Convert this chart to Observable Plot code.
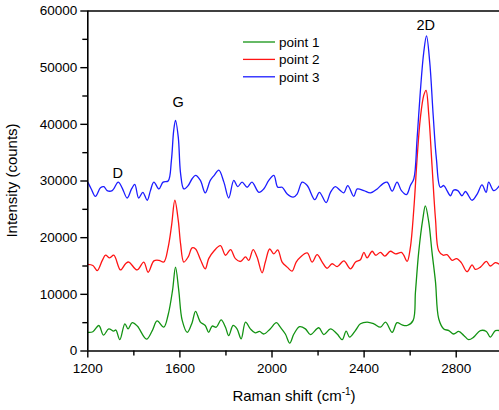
<!DOCTYPE html>
<html><head><meta charset="utf-8">
<script src="https://cdn.jsdelivr.net/npm/d3@7"></script>
<script src="https://cdn.jsdelivr.net/npm/@observablehq/plot@0.6"></script>
<style>body{margin:0;background:#fff;} svg{display:block;}</style>
</head><body><div id="chart"></div>
<script>
// ---- data (Raman shift in cm^-1, intensity in counts) ----
const seriesNames = ["point 1", "point 2", "point 3"];
const seriesColors = ["#139313", "#ff1414", "#1c1cff"];

const p1x = [1200,1222,1248,1268,1291,1312,1322,1339,1361,1375,1393,1415,1455,1480,1501,1530,1549,1568,1581,1595,1610,1632,1653,1668,1689,1710,1725,1740,1758,1779,1798,1812,1831,1848,1866,1885,1906,1927,1946,1964,1992,2019,2036,2058,2077,2095,2120,2145,2167,2203,2225,2254,2283,2305,2322,2337,2362,2384,2413,2442,2471,2493,2522,2543,2565,2587,2613,2623,2637,2655,2666,2681,2695,2710,2724,2746,2768,2789,2811,2833,2854,2876,2905,2931,2948,2970,2988];
const p1y = [3300,3400,4500,2800,3900,3500,3700,2000,4800,3900,5000,4400,2100,3600,5300,4200,6400,10700,14800,10700,5400,3300,5000,7000,5100,4500,3300,4400,4200,5500,4200,2700,4500,3900,2150,5100,3900,3200,3450,3000,3900,5000,4200,3000,1400,3000,4300,3900,2900,4100,2900,3900,3000,2000,3500,2450,3600,4800,5100,4800,4200,5100,3300,5000,4600,4500,5400,10400,17400,23300,25600,22700,17400,12200,5700,3900,3600,3000,3450,2750,2000,2450,3600,3450,2450,3600,3600];

const p2x = [1200,1222,1241,1263,1277,1295,1313,1342,1364,1378,1414,1443,1462,1487,1509,1530,1549,1564,1578,1593,1603,1617,1636,1653,1668,1689,1710,1725,1747,1776,1798,1820,1841,1863,1885,1899,1918,1935,1957,1971,1990,2008,2025,2044,2066,2087,2105,2124,2153,2174,2196,2218,2239,2261,2283,2312,2341,2363,2384,2399,2413,2435,2450,2471,2490,2514,2536,2562,2572,2587,2601,2616,2630,2644,2659,2669,2681,2695,2710,2724,2743,2760,2782,2801,2822,2847,2869,2883,2905,2931,2948,2970,2988];
const p2y = [15300,15100,14200,16000,16900,16450,16900,14300,15400,15700,14300,15700,13900,15900,16000,15700,18300,22200,26600,23000,18900,15700,16600,18200,18000,16150,14500,16300,17600,18600,16900,17900,16300,15800,16600,16000,17900,16600,13800,15700,18000,17150,17850,15700,14800,14100,15700,16600,17300,15700,17000,15700,14600,15400,14900,15900,14500,15700,16100,17400,16450,17600,16900,17400,16750,17600,17150,17400,16900,15800,18300,25100,33900,41000,45100,46000,41600,32700,23300,17700,16900,17000,16000,16300,15600,14000,15200,14400,14800,15800,15000,15600,15300];

const p3x = [1200,1215,1233,1255,1270,1284,1306,1332,1349,1371,1390,1404,1421,1439,1458,1472,1487,1509,1527,1549,1563,1573,1581,1593,1603,1617,1636,1653,1668,1689,1710,1732,1749,1769,1791,1812,1834,1851,1870,1892,1913,1943,1964,1986,2008,2025,2044,2066,2092,2109,2131,2153,2186,2206,2235,2254,2275,2297,2312,2329,2355,2370,2399,2428,2457,2481,2500,2522,2543,2562,2584,2601,2616,2630,2644,2659,2671,2685,2700,2714,2731,2746,2760,2775,2789,2807,2825,2840,2869,2891,2912,2930,2941,2963,2988];
const p3y = [29800,28600,27300,28800,29000,28300,28300,29800,28800,27000,28600,29400,27000,28000,26600,28300,29800,28600,29800,30000,33600,38900,40700,37700,31300,28600,29200,30400,31000,30100,27900,30100,31000,31900,29800,27000,30100,29000,29800,28900,29800,28000,28600,30100,31000,28900,28900,27700,27150,27700,29800,29200,26700,28000,26200,28000,29000,28300,27900,29200,27300,28600,28300,27900,28600,29500,29800,28200,29800,28300,27600,29200,30400,37400,45700,52700,55600,51000,41600,33900,28900,29200,28300,27400,28400,28300,27400,28150,26600,27700,29300,28000,29800,28300,29200];

const peakLabels = ["D", "G", "2D"];
const peakX = [1330, 1592, 2668];
const peakY = [31400, 43900, 57400];

const xMajorTicks = [1200, 1600, 2000, 2400, 2800];
const xMinorTicks = [1400, 1800, 2200, 2600];
const yMajorTicks = [0, 10000, 20000, 30000, 40000, 50000, 60000];
const yMinorTicks = [5000, 15000, 25000, 35000, 45000, 55000];

const xTitle = "Raman shift (cm";
const xTitleSup = "-1";
const yTitle = "Intensity (counts)";

// ---- build tables ----
const xs = [p1x, p2x, p3x], ys = [p1y, p2y, p3y];
const rows = seriesNames.flatMap((name, k) => xs[k].map((x, i) => ({series: name, x, y: ys[k][i]})));
const peaks = peakLabels.map((t, i) => ({t, x: peakX[i], y: peakY[i]}));

const font = "'Liberation Sans', Arial, sans-serif";

const chart = Plot.plot({
  width: 499, height: 410,
  marginLeft: 87.3, marginRight: 0, marginTop: 10.5, marginBottom: 59.5,
  style: {fontFamily: font, fontSize: "13.5px", color: "#000", background: "#fff"},
  x: {domain: [1200, 2988]},
  y: {domain: [0, 60000]},
  color: {domain: seriesNames, range: seriesColors},
  marks: [
    Plot.lineY(rows, {x: "x", y: "y", z: "series", stroke: "series", curve: "catmull-rom", strokeWidth: 1.3}),
    Plot.axisX(xMajorTicks, {tickSize: 7, tickPadding: 5, label: null, strokeWidth: 1.4, fontSize: 13.5, tickFormat: d3.format("d")}),
    Plot.axisX(xMinorTicks, {tickSize: 5, text: null, label: null, strokeWidth: 1.4}),
    Plot.axisY(yMajorTicks, {tickSize: 7, tickPadding: 3.5, label: null, strokeWidth: 1.4, fontSize: 13.5, tickFormat: d3.format("d")}),
    Plot.axisY(yMinorTicks, {tickSize: 5, text: null, label: null, strokeWidth: 1.4}),
    Plot.ruleY([0], {strokeWidth: 1.6}),
    Plot.ruleY([60000], {strokeWidth: 1.6}),
    Plot.ruleX([1200], {strokeWidth: 1.6}),
    Plot.text(peaks, {x: "x", y: "y", text: "t", fontSize: 14.5, fill: "#000"})
  ]
});

document.getElementById("chart").appendChild(chart);

// ---- titles and legend ----
const svg = d3.select(chart);
const xt = svg.append("text")
  .attr("x", 294).attr("y", 400.7).attr("text-anchor", "middle")
  .attr("font-family", font).attr("font-size", 15).attr("fill", "#000");
xt.append("tspan").text(xTitle);
xt.append("tspan").attr("dy", -6).attr("font-size", 10).text(xTitleSup);
xt.append("tspan").attr("dy", 6).text(")");

svg.append("text")
  .attr("transform", "translate(17,180.5) rotate(-90)")
  .attr("text-anchor", "middle")
  .attr("font-family", font).attr("font-size", 15).attr("fill", "#000")
  .text(yTitle);

const legend = svg.append("g");
seriesNames.forEach((name, i) => {
  const cy = 42 + i * 17.4;
  legend.append("line").attr("x1", 243).attr("x2", 275).attr("y1", cy).attr("y2", cy)
    .attr("stroke", seriesColors[i]).attr("stroke-width", 1.3);
  legend.append("text").attr("x", 279).attr("y", cy).attr("dy", "0.35em")
    .attr("text-anchor", "start")
    .attr("font-family", font).attr("font-size", 13.5).attr("fill", "#000").text(name);
});
</script>
</body></html>
